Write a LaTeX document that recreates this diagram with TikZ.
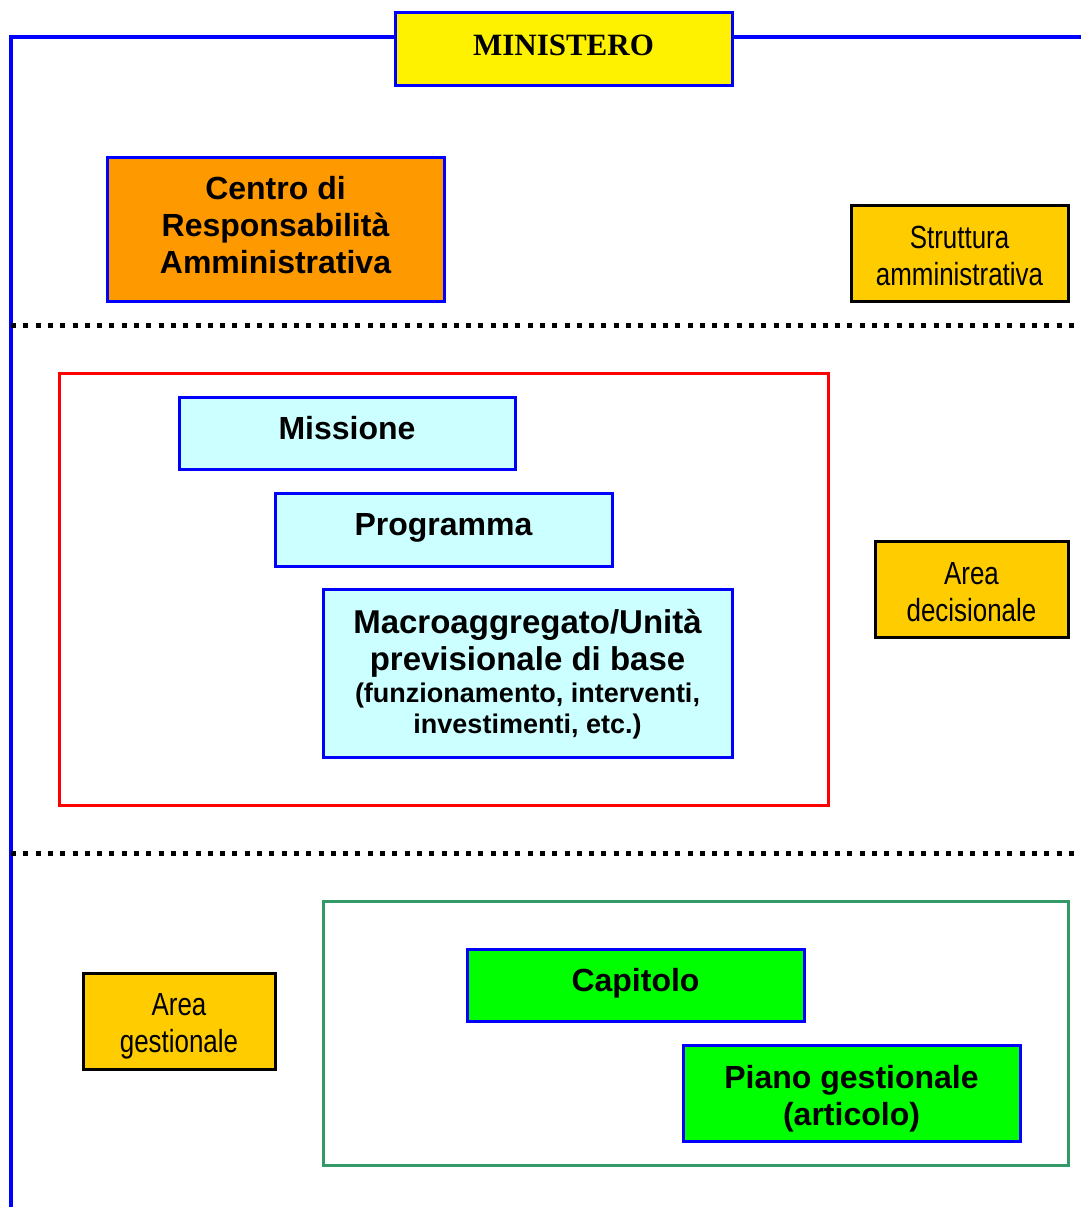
\documentclass[tikz,border=0pt]{standalone}
\usepackage{fontspec}
\setmainfont{Liberation Sans}
\newfontfamily\timesfont{Liberation Serif}
\newfontfamily\narrowfont[FakeStretch=0.81]{Liberation Sans}
\definecolor{orangeC}{HTML}{FF9900}
\definecolor{goldC}{HTML}{FFCC00}
\definecolor{cyanC}{HTML}{CCFFFF}
\definecolor{greenC}{HTML}{00FF00}
\definecolor{blueC}{HTML}{0000FF}
\definecolor{redC}{HTML}{FF0000}
\definecolor{seaC}{HTML}{339966}
\tikzset{
  rect/.style={draw, line width=3pt, inner sep=0pt, outer sep=0pt},
  bluebox/.style={rect, draw=blueC},
  goldbox/.style={rect, draw=black, fill=goldC},
  frame/.style={rect, fill=none},
  boldtxt/.style={inner sep=0pt, align=center, font=\bfseries\fontsize{32}{37}\selectfont},
  narrowtxt/.style={inner sep=0pt, align=center, font=\narrowfont\fontsize{32}{37}\selectfont},
  bline/.style={draw=blueC, line width=3.5pt},
  dotline/.style={draw=black, line width=5pt, dash pattern=on 5pt off 7.3pt}
}
\begin{document}
\begin{tikzpicture}[x=1pt,y=-1pt]
\useasboundingbox (0,0) rectangle (1081,1207);
% frames
\node (redframe) [frame, draw=redC, minimum width=769, minimum height=432] at (443.5,589) {};
\node (greenframe) [frame, draw=seaC, minimum width=745, minimum height=264] at (695.5,1033) {};
% ministero and blue lines
\node (min) [bluebox, fill=yellow, minimum width=337, minimum height=72] at (563.5,49) {};
\node (mint) [inner sep=0pt, font=\timesfont\bfseries\fontsize{31}{36}\selectfont] at ([yshift=4]min.center) {MINISTERO};
\coordinate (tl) at (11,37);
\coordinate (tr) at (1081,37);
\coordinate (bl) at (11,1207);
\draw[bline] (bl) -- (tl) -- (min.west |- tl);
\draw[bline] (min.east |- tr) -- (tr);
% dotted lines
\coordinate (d1a) at (11,325);
\coordinate (d1b) at (1081,325);
\coordinate (d2a) at (11,853);
\coordinate (d2b) at (1081,853);
\draw[dotline] (d1a) -- (d1b);
\draw[dotline] (d2a) -- (d2b);
% top section
\node (cra) [bluebox, fill=orangeC, minimum width=337, minimum height=144] at (275.5,229) {};
\node (crat) [boldtxt] at ([yshift=4]cra.center) {Centro di\\Responsabilità\\Amministrativa};
\node (strut) [goldbox, minimum width=217, minimum height=96] at (959.5,253) {};
\node (strutt) [narrowtxt] at ([yshift=-3]strut.center) {Struttura\\amministrativa};
% decisional area
\node (miss) [bluebox, fill=cyanC, minimum width=336, minimum height=72] at (347,433) {};
\node (misst) [boldtxt] at ([yshift=5]miss.center) {Missione};
\node (prog) [bluebox, fill=cyanC, minimum width=337, minimum height=73] at (443.5,529.5) {};
\node (progt) [boldtxt] at ([yshift=2]prog.center) {Programma};
\node (macro) [bluebox, fill=cyanC, minimum width=409, minimum height=168] at (527.5,673) {};
\node (macrot) [boldtxt, font=\bfseries\fontsize{33}{37}\selectfont] at ([yshift=-1]macro.center) {Macroaggregato/Unità\\previsionale di base\\[-5pt]{\fontsize{27}{30}\selectfont (funzionamento, interventi,}\\[-6pt]{\fontsize{27}{30}\selectfont investimenti, etc.)}};
\node (adec) [goldbox, minimum width=193, minimum height=96] at (971.5,589) {};
\node (adect) [narrowtxt] at ([yshift=-3]adec.center) {Area\\decisionale};
% management area
\node (ages) [goldbox, minimum width=192, minimum height=96] at (179,1021) {};
\node (agest) [narrowtxt] at ([yshift=-5]ages.center) {Area\\gestionale};
\node (cap) [bluebox, fill=greenC, minimum width=337, minimum height=72] at (635.5,985) {};
\node (capt) [boldtxt] at ([yshift=2]cap.center) {Capitolo};
\node (piano) [bluebox, fill=greenC, minimum width=337, minimum height=96] at (851.5,1093) {};
\node (pianot) [boldtxt] at ([yshift=-6]piano.center) {Piano gestionale\\(articolo)};
\end{tikzpicture}
\end{document}
